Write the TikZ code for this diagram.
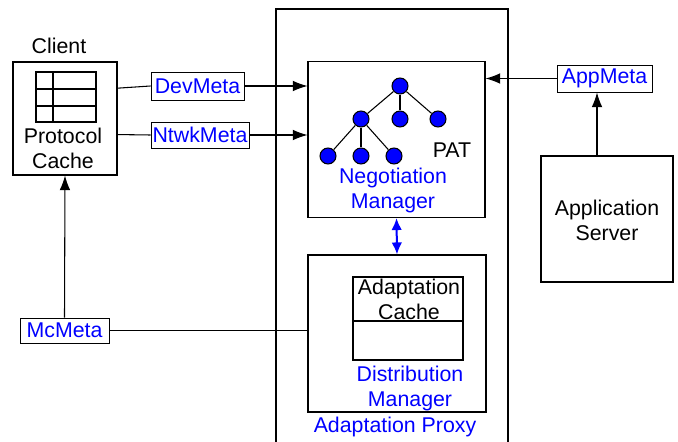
\documentclass[tikz,border=0pt]{standalone}
\usepackage{fontspec}
\setmainfont{Liberation Sans}
\usetikzlibrary{positioning}
\usetikzlibrary{arrows.meta}
\tikzset{
	every node/.style={font=\fontsize{16}{18.75}\selectfont},
	box/.style={draw, line width=0.8pt, inner sep=0pt},
	meta/.style={draw, fill=white, text=blue, line width=0.7pt, inner sep=0pt},
	leaf/.style={circle, draw, fill=blue, minimum size=12pt, inner sep=0pt},
	arr/.style={-{Latex[length=11pt,width=8pt]}},
	lbl/.style={align=center, inner sep=0pt},
}

\begin{document}
\begin{tikzpicture}[x=0.75pt, y=-0.75pt, line width=0.8pt]
		\path[use as bounding box, clip] (0,0) rectangle (678,442);
		% proxy
		\node[box, line width=2pt, minimum width=232*0.75pt, minimum height=450*0.75pt] (proxy) at (392,234) {};
		\node[lbl, text=blue] (proxylbl) at (395,427) {Adaptation Proxy};
		% client
		\node[lbl] (clientlbl) at (59,46) {Client};
		\node[box, minimum width=104*0.75pt, minimum height=113*0.75pt] (client) at (65,118.5) {};
		\node[box, minimum width=60*0.75pt, minimum height=50*0.75pt] (ptable) at (66,97) {};
		\draw (36,89) -- (96,89);
		\draw (36,106) -- (96,106);
		\draw (53,72) -- (53,122);
		\node[lbl] (proto) at (63,148) {Protocol\\Cache};
		% meta data
		\node[meta, minimum width=93*0.75pt, minimum height=28*0.75pt] (devmeta) at (197.5,86) {DevMeta};
		\node[meta, minimum width=98*0.75pt, minimum height=26*0.75pt] (ntwkmeta) at (200,135) {NtwkMeta};
		\node[meta, minimum width=89*0.75pt, minimum height=25*0.75pt] (mcmeta) at (64.5,330.5) {McMeta};
		\node[meta, minimum width=95*0.75pt, minimum height=27*0.75pt] (appmeta) at (604.5,78.5) {AppMeta};
		% negotiation manager
		\node[box, minimum width=177*0.75pt, minimum height=156*0.75pt] (negman) at (396.5,139.5) {};
		\node[leaf] (root) at (400,86) {};
		\node[leaf] (n1) at (361,119) {};
		\node[leaf] (n2) at (400,119) {};
		\node[leaf] (n3) at (438,119) {};
		\node[leaf] (l1) at (328,156) {};
		\node[leaf] (l2) at (361,156) {};
		\node[leaf] (l3) at (394,156) {};
		\foreach \a/\b in {root/n1, root/n2, root/n3, n1/l1, n1/l2, n1/l3}
			\draw (\a) -- (\b);
		\node[lbl] (pat) at (452,150) {PAT};
		\node[lbl, text=blue] (neglbl) at (393,190) {Negotiation\\Manager};
		% distribution manager
		\node[box, minimum width=178*0.75pt, minimum height=157*0.75pt] (distman) at (397,333.5) {};
		\node[box, minimum width=110*0.75pt, minimum height=83*0.75pt] (adcache) at (408,318.5) {};
		\draw (353,321) -- (463,321);
		\node[lbl] (adlbl) at (409,299) {Adaptation\\Cache};
		\node[lbl, text=blue] (distlbl) at (410,388) {Distribution\\Manager};
		% application server
		\node[box, minimum width=132*0.75pt, minimum height=126*0.75pt] (appserver) at (607,219) {};
		\node[lbl] (applbl) at (607,220) {Application\\Server};
		\coordinate (srvtop) at (597,156);
		% connectors
		\draw (client.30) -- (devmeta.west);
		\draw (client.-17) -- (ntwkmeta.west);
		\draw[arr] (devmeta.east) -- (devmeta.east -| negman.west);
		\draw[arr] (ntwkmeta.east) -- (ntwkmeta.east -| negman.west);
		\draw[arr] (appmeta.west) -- (appmeta.west -| negman.east);
		\draw[arr] (srvtop) -- (srvtop |- appmeta.south);
		\draw[arr] (mcmeta.north) -- (client.south);
		\draw (mcmeta.east) -- (mcmeta.east -| distman.west);
		\draw[blue, line width=1.5pt, {Latex[length=9pt,width=8pt]}-{Latex[length=9pt,width=8pt]}] (negman.south) -- (distman.north);
	\end{tikzpicture}
\end{document}
